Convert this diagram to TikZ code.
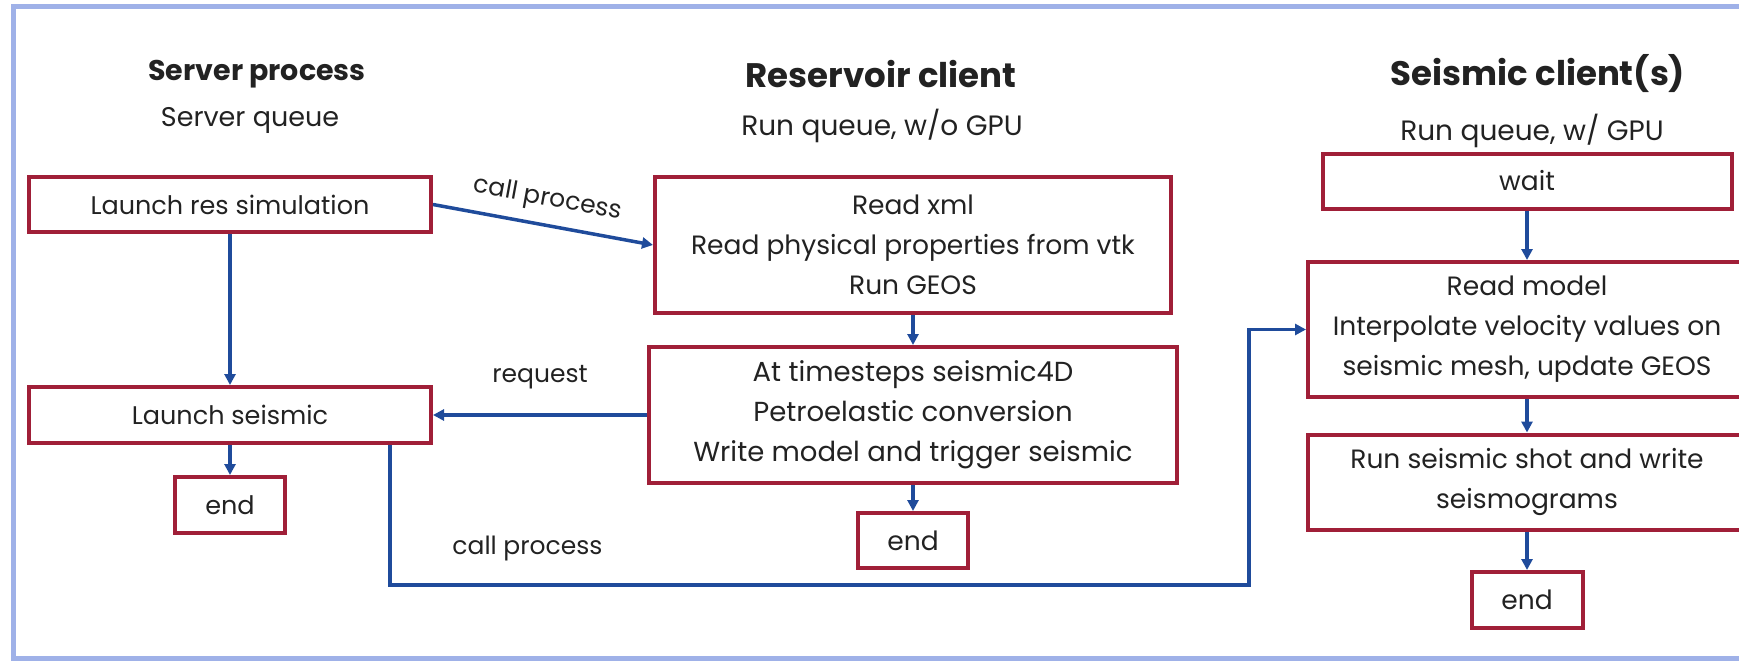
\documentclass[tikz,border=0pt]{standalone}
\usepackage{fontspec}
\setmainfont{Poppins}
\usetikzlibrary{arrows.meta}
\definecolor{boxred}{HTML}{A01F38}
\definecolor{flowblue}{HTML}{1F4B9B}
\definecolor{frameblue}{HTML}{9FB1E8}
\definecolor{txtgray}{HTML}{222222}
\tikzset{
  box/.style={draw=boxred, line width=4pt, fill=white, text=txtgray, align=center, inner sep=0pt, font=\fontsize{26.5}{40}\selectfont},
  flow/.style={draw=flowblue, line width=3.5pt, -{Triangle[length=11pt,width=11pt]}},
  head/.style={text=txtgray, font=\bfseries\fontsize{34}{38}\selectfont},
  sub/.style={text=txtgray, font=\fontsize{28}{32}\selectfont},
  lbl/.style={text=txtgray, font=\fontsize{25}{30}\selectfont},
}
\begin{document}
\begin{tikzpicture}[x=1pt,y=-1pt]
\useasboundingbox (0,0) rectangle (1739,661);
\draw[frameblue, line width=5pt] (13,7) rectangle (1770,658);
% column titles
\node[head, font=\bfseries\fontsize{28.5}{32}\selectfont] (hServer) at (257,74) {Server process};
\node[sub, font=\fontsize{27}{32}\selectfont] (qServer) at (250,120) {Server queue};
\node[head] (hRes) at (881,74) {Reservoir client};
\node[sub] (qRes) at (882,126) {Run queue, w/o GPU};
\node[head] (hSeis) at (1538,74) {Seismic client(s)};
\node[sub] (qSeis) at (1532,131) {Run queue, w/ GPU};
% server process
\node[box, font=\fontsize{25.5}{40}\selectfont, minimum width=402pt, minimum height=55pt] (resSim) at (230,204.5) {Launch res simulation};
\node[box, font=\fontsize{25.5}{40}\selectfont, minimum width=402pt, minimum height=56pt] (launchSeis) at (230,415) {Launch seismic};
\node[box, font=\fontsize{25.5}{40}\selectfont, minimum width=110pt, minimum height=56pt] (endServer) at (230,505) {end};
% reservoir client
\node[box, minimum width=516pt, minimum height=136pt] (readXml) at (913,245) {Read xml\\Read physical properties from vtk\\Run GEOS};
\node[box, font=\fontsize{27.5}{40}\selectfont, minimum width=528pt, minimum height=136pt] (timeSteps) at (913,415) {At timesteps seismic4D\\Petroelastic conversion\\Write model and trigger seismic};
\node[box, minimum width=110pt, minimum height=55pt] (endRes) at (913,540.5) {end};
% seismic client
\node[box, minimum width=409pt, minimum height=55pt] (wait) at (1527,181) {wait};
\node[box, minimum width=438pt, minimum height=135pt] (readModel) at (1527,329.5) {Read model\\Interpolate velocity values on\\seismic mesh, update GEOS};
\node[box, minimum width=438pt, minimum height=95pt] (seisShot) at (1527,482) {Run seismic shot and write\\seismograms};
\node[box, minimum width=111pt, minimum height=56pt] (endSeis) at (1527,600) {end};
% connectors
\draw[flow] (resSim.east) -- node[lbl, sloped, above=8pt] {call process} (readXml.west);
\draw[flow] (resSim) -- (launchSeis);
\draw[flow] (launchSeis) -- (endServer);
\draw[flow] (readXml) -- (timeSteps);
\draw[flow] (timeSteps) -- (endRes);
\draw[flow] (timeSteps.west) -- node[lbl, yshift=38pt] {request} (launchSeis.east);
\coordinate (cpTurn) at (1249,585);
\draw[flow] ([xshift=160pt]launchSeis.south) |- node[lbl, pos=0.58, yshift=37pt] {call process} (cpTurn) |- (readModel.west);
\draw[flow] (wait) -- (readModel);
\draw[flow] (readModel) -- (seisShot);
\draw[flow] (seisShot) -- (endSeis);
\end{tikzpicture}
\end{document}
